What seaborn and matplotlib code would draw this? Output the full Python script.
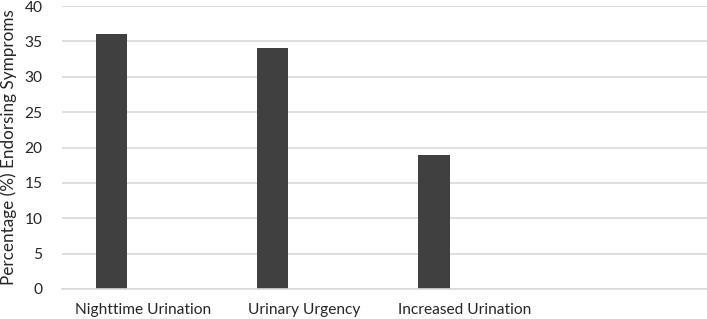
import pandas as pd
import numpy as np
import seaborn as sns
import matplotlib.pyplot as plt

# Chart values (only the first series of the clustered chart holds data)
categories = ['Nighttime Urination', 'Urinary Urgency', 'Increased Urination', ' ']
series = ['Series1', 'Series2', 'Series3']
series1_values = [36, 34, 19, np.nan]
yticks = [0, 5, 10, 15, 20, 25, 30, 35, 40]

rows = []
for s in series:
    for c, v in zip(categories, series1_values):
        rows.append({'symptom': c, 'series': s, 'pct': v if s == 'Series1' else np.nan})
df = pd.DataFrame(rows)

sns.set_style('white')
plt.rcParams['font.family'] = ['Lato', 'DejaVu Sans']

fig = plt.figure(figsize=(7.07, 3.19), dpi=100)
ax = fig.add_axes([62 / 707, 1 - 289 / 319, 1 - 62 / 707, 283 / 319])

sns.barplot(data=df, x='symptom', y='pct', hue='series', order=categories,
            hue_order=series, palette=['#404040'] * 3, width=0.58,
            errorbar=None, legend=False, linewidth=0, ax=ax)

ax.set_xlim(-0.5, len(categories) - 0.5)
ax.set_ylim(0, 40)
ax.set_yticks(yticks)
ax.yaxis.grid(True, color='#d9d9d9', linewidth=1.2)
ax.set_axisbelow(True)
for side in ['top', 'right', 'left']:
    ax.spines[side].set_visible(False)
ax.spines['bottom'].set_color('#d9d9d9')
ax.spines['bottom'].set_linewidth(1.2)
ax.tick_params(axis='both', length=0, labelsize=11.2, colors='#262626')
ax.tick_params(axis='x', pad=10)
ax.tick_params(axis='y', pad=14)
ax.set_xlabel('')
ax.set_ylabel('Percentage (%) Endorsing Symproms', fontsize=12.3, color='#262626', labelpad=5)

fig.savefig('out.png', dpi=100)
